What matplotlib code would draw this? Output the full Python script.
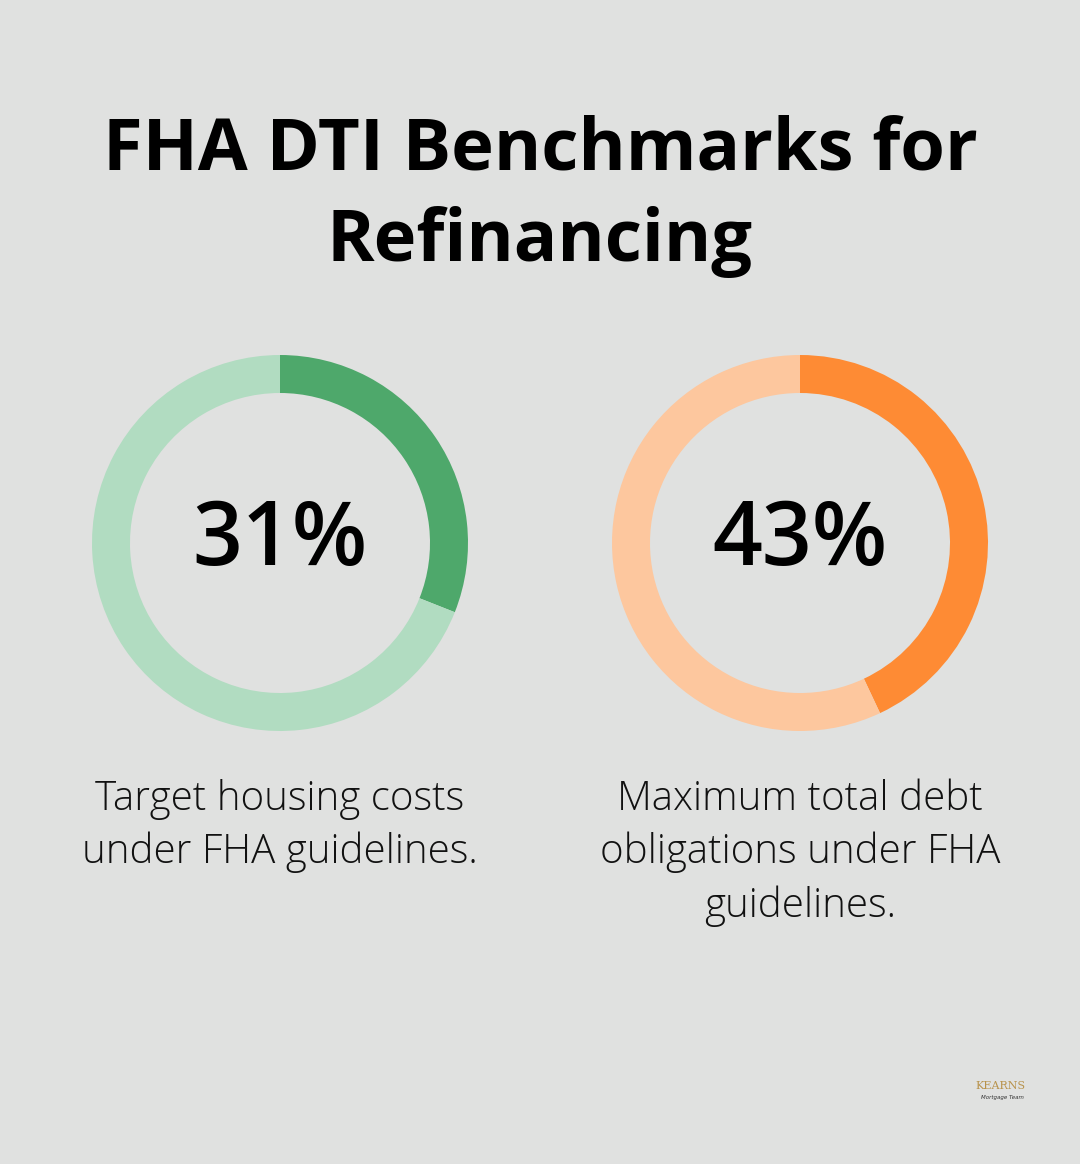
import matplotlib
matplotlib.use("Agg")
import matplotlib.pyplot as plt

title = "FHA DTI Benchmarks for\nRefinancing"
values = [31, 43]
labels = ["31%", "43%"]
captions = ["Target housing costs\nunder FHA guidelines.",
            "Maximum total debt\nobligations under FHA\nguidelines."]
dark = ["#4ea86b", "#fe8b34"]
light = ["#b1dcc1", "#fdc79e"]

bg = "#e0e1e0"
fig = plt.figure(figsize=(10.8, 11.64), dpi=100, facecolor=bg)
ax = fig.add_axes([0, 0, 1, 1])

ax.text(540, 1164-196, title, ha="center", va="center", fontsize=52,
        fontweight="bold", family="Open Sans", linespacing=1.36, color="#000000")

centers = [280, 800]
for i, v in enumerate(values):
    ax.pie([v, 100-v], colors=[dark[i], light[i]], startangle=90, counterclock=False,
           center=(centers[i], 1164-543), radius=188,
           wedgeprops=dict(width=38, linewidth=0), frame=True)
    ax.text(centers[i], 1164-541, labels[i], ha="center", va="center", fontsize=63,
            family="Open Sans", fontweight="semibold", color="#000000")
    ax.text(centers[i], 1164-779, captions[i], ha="center", va="top", fontsize=29,
            family="Open Sans", fontweight="light", color="#111111", linespacing=1.38)

ax.set_xlim(0, 1080); ax.set_ylim(0, 1164); ax.set_aspect("auto"); ax.axis("off")
ax.text(1000, 1164-1086, "KEARNS", ha="center", va="center", fontsize=8,
        color="#b8924a", family="DejaVu Serif")
ax.text(1002, 1164-1097, "Mortgage Team", ha="center", va="center", fontsize=4,
        color="#333333", style="italic")
fig.savefig("out.png", dpi=100, facecolor=bg)
